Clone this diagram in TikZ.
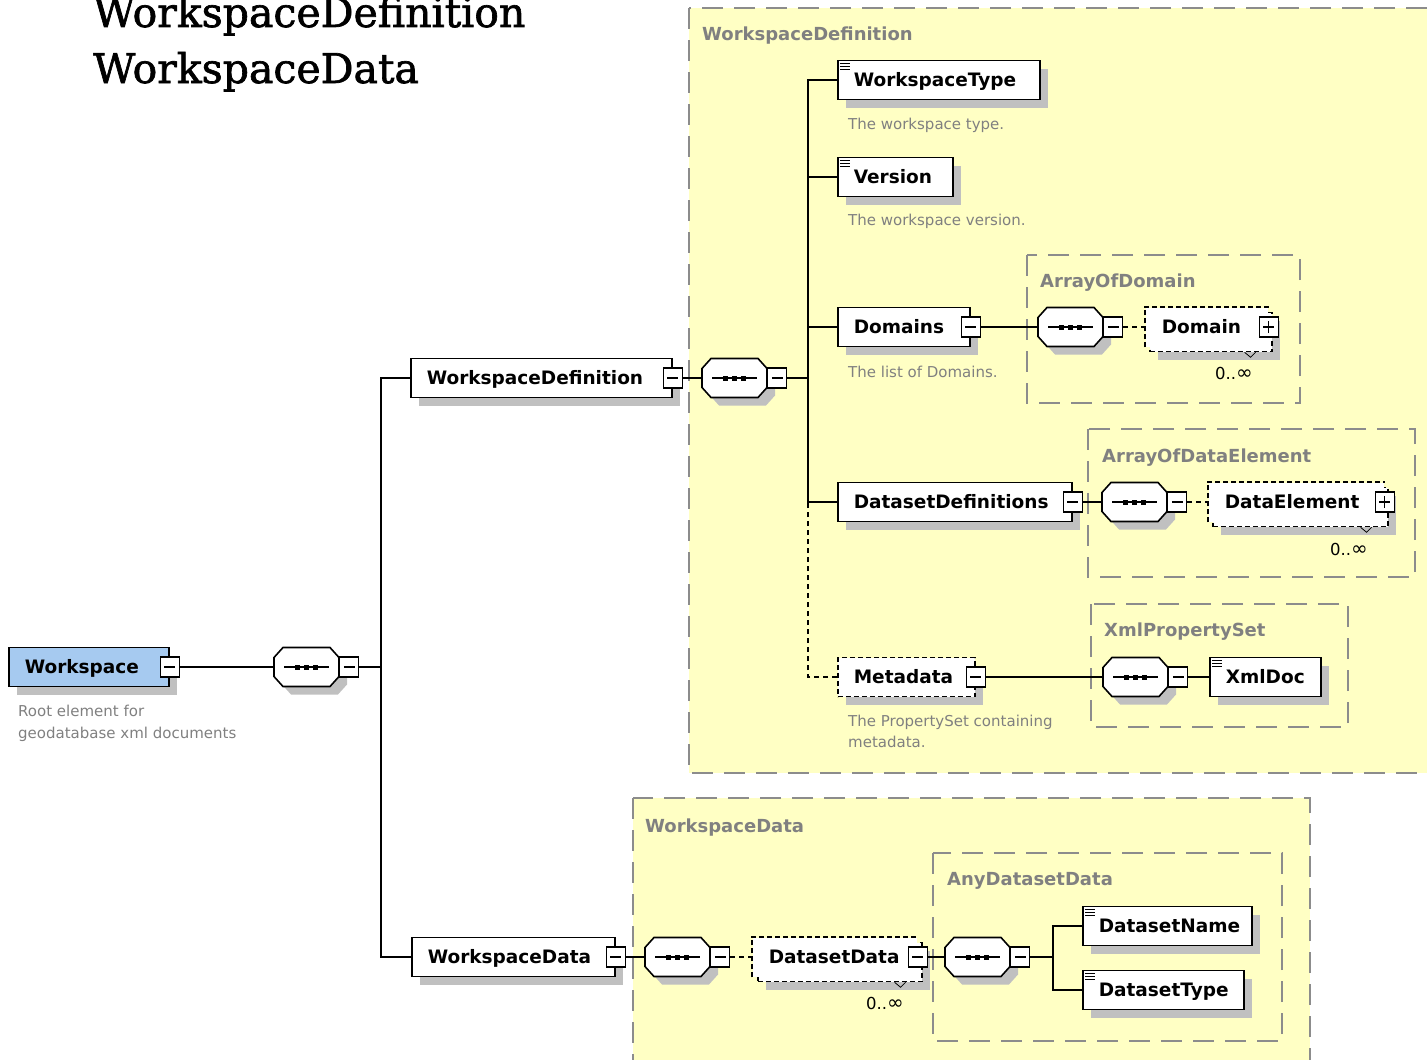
\documentclass[tikz,border=0pt]{standalone}
\usepackage{fontspec}
\setmainfont{DejaVu Sans}
\newfontfamily\headfont{DejaVu Serif}[FakeBold=1.6]
\usetikzlibrary{calc}

\definecolor{panelfill}{HTML}{FFFFC4}
\definecolor{panelline}{HTML}{8C8C8C}
\definecolor{shadowgray}{HTML}{C0C0C0}
\definecolor{rootblue}{HTML}{A6CAF0}
\definecolor{notegray}{HTML}{808080}

\newcommand\elemfont{\fontsize{18.5pt}{20pt}\selectfont\bfseries}
\newcommand\notefont{\fontsize{15pt}{18pt}\selectfont}
\newcommand\unbounded{0..{\fontsize{20pt}{20pt}\selectfont ∞}}

\tikzset{
  box/.style={rectangle, anchor=west, minimum height=39pt, inner xsep=16pt,
    inner ysep=0pt, text height=17pt, text depth=4pt, align=left,
    font=\elemfont, line width=1.6pt, fill=white},
  shadowed/.style={preaction={fill=shadowgray, draw=none,
    transform canvas={xshift=8pt,yshift=-8pt}}},
  elem/.style={box, draw=black, shadowed},
  optelem/.style={elem, dash pattern=on 5pt off 3pt},
  repback/.style={box, draw=black, dash pattern=on 5pt off 3pt, shadowed},
  repfront/.style={box, draw=none},
  tog/.style={rectangle, draw=black, fill=white, line width=1.2pt,
    minimum width=19pt, minimum height=20pt, inner sep=0pt,
    path picture={\draw[line width=1.2pt]
      ([xshift=4pt]path picture bounding box.west) --
      ([xshift=-4pt]path picture bounding box.east);}},
  togplus/.style={tog,
    path picture={\draw[line width=1.2pt]
      ([xshift=4pt]path picture bounding box.west) --
      ([xshift=-4pt]path picture bounding box.east)
      ([yshift=4pt]path picture bounding box.south) --
      ([yshift=-4pt]path picture bounding box.north);}},
  seqanchor/.style={rectangle, minimum width=65pt, minimum height=39pt,
    inner sep=0pt, draw=none},
  conn/.style={line width=1.5pt, black},
  connopt/.style={conn, dash pattern=on 5pt off 4pt},
  panel/.style={draw=panelline, fill=panelfill, line width=1.8pt,
    dash pattern=on 21pt off 11pt},
  paneltitle/.style={anchor=base west, inner sep=0pt, text=notegray,
    font=\fontsize{18pt}{20pt}\selectfont\bfseries},
  note/.style={anchor=base west, inner sep=0pt, text=notegray, font=\notefont},
  mult/.style={anchor=base west, inner sep=0pt,
    font=\fontsize{16.5pt}{18pt}\selectfont},
}

% sequence compositor: octagon with three dots and a collapse box
\newcommand\seqgroup[3]{%
  \fill[shadowgray] (#2+17,#3-11.5) -- (#2+64,#3-11.5) -- (#2+73,#3-1.5)
    -- (#2+73,#3+17.5) -- (#2+64,#3+27.5) -- (#2+17,#3+27.5)
    -- (#2+8,#3+17.5) -- (#2+8,#3-1.5) -- cycle;
  \draw[line width=1.6pt, fill=white] (#2+9,#3-19.5) -- (#2+56,#3-19.5)
    -- (#2+65,#3-9.5) -- (#2+65,#3+9.5) -- (#2+56,#3+19.5)
    -- (#2+9,#3+19.5) -- (#2,#3+9.5) -- (#2,#3-9.5) -- cycle;
  \node[seqanchor] (#1) at (#2+32.5,#3) {};
  \draw[line width=1.5pt] (#2+10,#3) -- (#2+55,#3);
  \fill (#2+21,#3-2.5) rectangle ++(5,5);
  \fill (#2+30,#3-2.5) rectangle ++(5,5);
  \fill (#2+39,#3-2.5) rectangle ++(5,5);
  \node[tog, anchor=west] (#1-m) at (#1.east) {};
}

% "simple content" mark in the top left corner of a box
\newcommand\simplemark[1]{%
  \draw[line width=1.3pt] ([xshift=3pt,yshift=-4pt]#1.north west) -- ++(10,0);
  \draw[line width=1.3pt] ([xshift=3pt,yshift=-7pt]#1.north west) -- ++(10,0);
  \draw[line width=1.3pt] ([xshift=3pt,yshift=-10pt]#1.north west) -- ++(10,0);
}

% front outline and multiplicity tick of a repeated element
\newcommand\repoutline[2]{%
  \draw[line width=1.6pt, dash pattern=on 5pt off 3pt]
    (#1.south west) |- (#1.north east);
  \draw[line width=0.8pt] ([xshift=-28pt]#2.south east) -- ++(6,5) -- ++(5,-5);
}

\begin{document}
\begin{tikzpicture}[x=1pt, y=-1pt]
\useasboundingbox (0,0) rectangle (1427,1060);
\clip (0,0) rectangle (1427,1060);

% headings
\node[anchor=base west, inner sep=0pt, font=\headfont\fontsize{41pt}{44pt}\selectfont]
  (head1) at (93,27) {WorkspaceDefinition};
\node[anchor=base west, inner sep=0pt, font=\headfont\fontsize{41pt}{44pt}\selectfont]
  (head2) at (93,83) {WorkspaceData};

% type panels
\draw[panel] (689,8) rectangle (1445,773);
\draw[panel] (1027,255) rectangle (1300,403);
\draw[panel] (1088,429) rectangle (1415,577);
\draw[panel] (1091,604) rectangle (1348,727);
\draw[panel] (633,798) rectangle (1310,1075);
\draw[panel] (933,853) rectangle (1282,1041);
\node[paneltitle] (t1) at (702,40) {WorkspaceDefinition};
\node[paneltitle] (t2) at (1040,287) {ArrayOfDomain};
\node[paneltitle] (t3) at (1102,462) {ArrayOfDataElement};
\node[paneltitle] (t4) at (1104,636) {XmlPropertySet};
\node[paneltitle] (t5) at (645,832) {WorkspaceData};
\node[paneltitle] (t6) at (947,885) {AnyDatasetData};

% root element
\node[elem, fill=rootblue, text width=128pt] (ws) at (8,667) {Workspace};
\node[tog] (ws-m) at (ws.east) {};
\node[note] (ws-n1) at (18,716) {Root element for};
\node[note] (ws-n2) at (18,738) {geodatabase xml documents};
\seqgroup{s0}{274}{667}

% WorkspaceDefinition branch
\node[elem, text width=229pt] (wsdef) at (410,378) {WorkspaceDefinition};
\node[tog] (wsdef-m) at (wsdef.east) {};
\seqgroup{s1}{702}{378}

\node[elem, text width=170pt] (wtype) at (837,80) {WorkspaceType};
\simplemark{wtype}
\node[note] (wtype-n) at (848,129) {The workspace type.};

\node[elem, text width=83pt] (version) at (837,177) {Version};
\simplemark{version}
\node[note] (version-n) at (848,225) {The workspace version.};

\node[elem, text width=100pt] (domains) at (837,327) {Domains};
\node[tog] (domains-m) at (domains.east) {};
\node[note] (domains-n) at (848,377) {The list of Domains.};
\seqgroup{s2}{1038}{327}
\node[repback, text width=90pt] (dom-b) at (1149,332) {};
\node[repfront, text width=90pt] (dom) at (1145,327) {Domain};
\repoutline{dom}{dom-b}
\node[togplus] (dom-m) at (dom.east) {};
\node[mult] (dom-x) at (1215,379) {\unbounded};

\node[elem, text width=202pt] (dsdef) at (837,502) {DatasetDefinitions};
\node[tog] (dsdef-m) at (dsdef.east) {};
\seqgroup{s3}{1102}{502}
\node[repback, text width=143pt] (de-b) at (1212,507) {};
\node[repfront, text width=143pt] (de) at (1208,502) {DataElement};
\repoutline{de}{de-b}
\node[togplus] (de-m) at (de.east) {};
\node[mult] (de-x) at (1330,555) {\unbounded};

\node[optelem, text width=105pt] (meta) at (837,677) {Metadata};
\node[tog] (meta-m) at (meta.east) {};
\node[note] (meta-n1) at (848,726) {The PropertySet containing};
\node[note] (meta-n2) at (848,747) {metadata.};
\seqgroup{s4}{1103}{677}
\node[elem, text width=79pt] (xmldoc) at (1209,677) {XmlDoc};
\simplemark{xmldoc}

% WorkspaceData branch
\node[elem, text width=171pt] (wsdata) at (411,957) {WorkspaceData};
\node[tog] (wsdata-m) at (wsdata.east) {};
\seqgroup{s5}{645}{957}
\node[repback, text width=132pt] (dd-b) at (757,962) {};
\node[repfront, text width=132pt] (dd) at (752,957) {DatasetData};
\repoutline{dd}{dd-b}
\node[tog] (dd-m) at (dd.east) {};
\node[mult] (dd-x) at (866,1009) {\unbounded};
\seqgroup{s6}{945}{957}
\node[elem, text width=137pt] (dsname) at (1082,926) {DatasetName};
\simplemark{dsname}
\node[elem, text width=129pt] (dstype) at (1082,990) {DatasetType};
\simplemark{dstype}

% connectors
\coordinate (j0) at (381,667);
\coordinate (j1) at (808,378);
\coordinate (j6) at (1053,957);
\draw[conn] (ws-m.east) -- (s0.west);
\draw[conn] (s0-m.east) -- (j0);
\draw[conn] (wsdef.west) -| (j0) |- (wsdata.west);
\draw[conn] (wsdef-m.east) -- (s1.west);
\draw[conn] (s1-m.east) -- (j1);
\draw[conn] (wtype.west) -| (j1) |- (dsdef.west);
\draw[conn] (version.west) -- (version.west -| j1);
\draw[conn] (domains.west) -- (domains.west -| j1);
\draw[connopt] (meta.west) -| (j1 |- dsdef.west);
\draw[conn] (domains-m.east) -- (s2.west);
\draw[connopt] (s2-m.east) -- (dom.west);
\draw[conn] (dsdef-m.east) -- (s3.west);
\draw[connopt] (s3-m.east) -- (de.west);
\draw[conn] (meta-m.east) -- (s4.west);
\draw[conn] (s4-m.east) -- (xmldoc.west);
\draw[conn] (wsdata-m.east) -- (s5.west);
\draw[connopt] (s5-m.east) -- (dd.west);
\draw[conn] (dd-m.east) -- (s6.west);
\draw[conn] (s6-m.east) -- (j6);
\draw[conn] (dsname.west) -| (j6) |- (dstype.west);
\end{tikzpicture}
\end{document}
